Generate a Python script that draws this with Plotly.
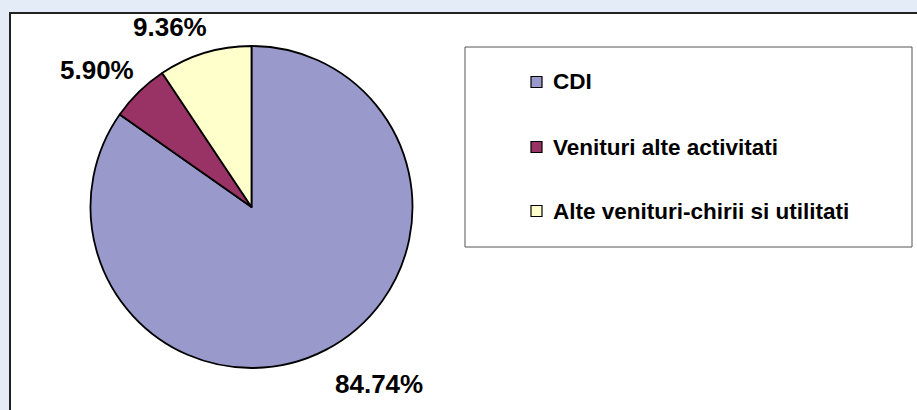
import math
import plotly.graph_objects as go

# ---- data ----
categories = ["CDI", "Venituri alte activitati", "Alte venituri-chirii si utilitati"]
values = [84.74, 5.90, 9.36]
colors = ["#9999CC", "#993366", "#FFFFCC"]

W, H = 917, 410
FONT = "Liberation Sans, Arial, sans-serif"
BG = "#E4EDF7"

# pie geometry (pixels)
cx, cy, R = 251.5, 207.0, 161.0


def px(x):
    return x / W


def py(y):
    return 1 - y / H


fig = go.Figure()
fig.add_trace(go.Pie(
    labels=categories,
    values=values,
    marker=dict(colors=colors, line=dict(color="#000000", width=1.8)),
    sort=False,
    direction="clockwise",
    rotation=0,
    textinfo="none",
    hoverinfo="label+percent",
    showlegend=False,
    domain=dict(x=[px(cx - R), px(cx + R)], y=[py(cy + R), py(cy - R)]),
))

shapes = []
annotations = []

# chart area frame (white with dark border)
shapes.append(dict(type="rect", xref="paper", yref="paper",
                   x0=px(10), x1=px(W + 10), y0=py(H + 10), y1=py(13),
                   fillcolor="white", line=dict(color="#222222", width=2),
                   layer="below"))

# percentage labels positioned from data angles
total = sum(values)
cum = 0.0
r_lab = 180.0
for v in values:
    mid = (cum + v / 2) / total * 2 * math.pi
    cum += v
    dx = math.sin(mid) * r_lab
    dy = -math.cos(mid) * r_lab
    upper = dy < 0
    annotations.append(dict(
        x=px(cx + dx), y=py(cy + dy), xref="paper", yref="paper",
        text="<b>%.2f%%</b>" % (v / total * 100),
        showarrow=False,
        xanchor="left" if dx > 0 else "right",
        yanchor="bottom" if upper else "top",
        xshift=(10 if dx < 0 else -2),
        yshift=(-9 if upper else 0),
        font=dict(family=FONT, size=26, color="black"),
    ))

# legend box
shapes.append(dict(type="rect", xref="paper", yref="paper",
                   x0=px(465), x1=px(912), y0=py(247), y1=py(47),
                   fillcolor="white", line=dict(color="#555555", width=1),
                   layer="below"))
legend_y = [82, 147, 211]
for lab, col, ly in zip(categories, colors, legend_y):
    shapes.append(dict(type="rect", xref="paper", yref="paper",
                       x0=px(531), x1=px(542), y0=py(ly + 5.5), y1=py(ly - 5.5),
                       fillcolor=col, line=dict(color="#000000", width=1.2)))
    annotations.append(dict(
        x=px(551), y=py(ly), xref="paper", yref="paper",
        text="<b>%s</b>" % lab, showarrow=False,
        xanchor="left", yanchor="middle",
        font=dict(family=FONT, size=22.5, color="black"),
    ))

fig.update_layout(
    width=W, height=H,
    margin=dict(l=0, r=0, t=0, b=0),
    paper_bgcolor=BG,
    plot_bgcolor="white",
    shapes=shapes,
    annotations=annotations,
    showlegend=False,
)

fig.write_html(
    "out.html",
    config={"displayModeBar": False},
    post_script="document.body.style.margin='0';document.body.style.background='%s';" % BG,
)
